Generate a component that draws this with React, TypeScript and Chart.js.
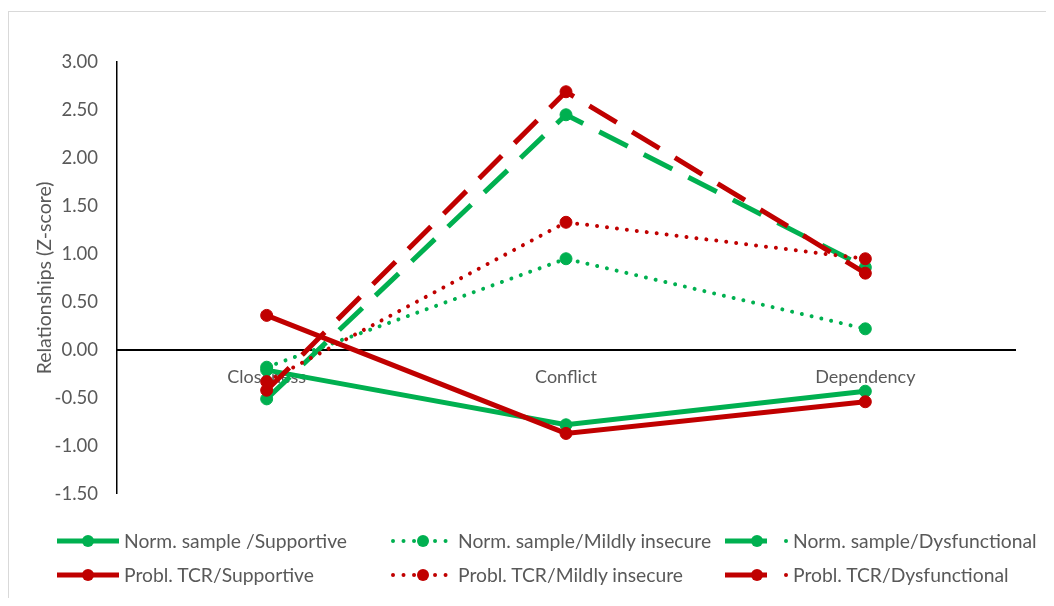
import React, { useEffect, useRef } from "react";
import { Chart, registerables } from "chart.js";

Chart.register(...registerables);

const categories = ["Closeness", "Conflict", "Dependency"];
const normSupportive = [-0.21, -0.78, -0.43];
const normMildly = [-0.18, 0.95, 0.22];
const normDysfunctional = [-0.51, 2.45, 0.86];
const problSupportive = [0.36, -0.87, -0.54];
const problMildly = [-0.33, 1.33, 0.95];
const problDysfunctional = [-0.42, 2.69, 0.8];

const seriesLabels = [
  "Norm. sample /Supportive",
  "Norm. sample/Mildly insecure",
  "Norm. sample/Dysfunctional",
  "Probl. TCR/Supportive",
  "Probl. TCR/Mildly insecure",
  "Probl. TCR/Dysfunctional",
];

const GREEN = "#00B050";
const RED = "#C00000";
const TEXT = "#595959";
const FONT = "Lato, 'Open Sans', sans-serif";

type Style = "solid" | "dotted" | "dashed";

function ds(label: string, data: number[], color: string, style: Style, order: number) {
  const dash = style === "dotted" ? [0.01, 10] : style === "dashed" ? [32, 18] : [];
  return {
    label,
    data,
    borderColor: color,
    backgroundColor: color,
    borderWidth: style === "dotted" ? 4 : 5,
    borderDash: dash,
    borderCapStyle: style === "dotted" ? "round" : "butt",
    pointRadius: 6,
    pointBorderWidth: 1,
    pointBackgroundColor: color,
    pointBorderColor: color,
    tension: 0,
    fill: false,
    order,
  } as any;
}

export default function App() {
  const ref = useRef<HTMLCanvasElement | null>(null);

  useEffect(() => {
    if (!ref.current) return;
    const chart = new Chart(ref.current, {
      type: "line",
      data: {
        labels: categories,
        datasets: [
          ds(seriesLabels[0], normSupportive, GREEN, "solid", 5),
          ds(seriesLabels[1], normMildly, GREEN, "dotted", 4),
          ds(seriesLabels[2], normDysfunctional, GREEN, "dashed", 3),
          ds(seriesLabels[3], problSupportive, RED, "solid", 2),
          ds(seriesLabels[4], problMildly, RED, "dotted", 1),
          ds(seriesLabels[5], problDysfunctional, RED, "dashed", 0),
        ],
      },
      options: {
        animation: false,
        responsive: false,
        maintainAspectRatio: false,
        layout: { padding: { top: 54, right: 31, bottom: 15, left: 0 } },
        plugins: { legend: { display: false }, tooltip: { enabled: false } },
        scales: {
          x: {
            type: "category",
            offset: true,
            position: { y: 0 } as any,
            grid: { display: false, drawTicks: false },
            border: { display: true, color: "#000000", width: 2 },
            ticks: { color: TEXT, padding: 16, font: { family: FONT, size: 18 } },
          },
          y: {
            type: "linear",
            min: -1.5,
            max: 3,
            position: "left",
            grid: { display: false, drawTicks: false },
            border: { display: true, color: "#000000", width: 1.5 },
            ticks: {
              stepSize: 0.5,
              color: TEXT,
              padding: 19,
              font: { family: FONT, size: 18.5 },
              callback: (v: any) => Number(v).toFixed(2),
            },
            title: {
              display: true,
              text: "Relationships (Z-score)",
              color: TEXT,
              font: { family: FONT, size: 19.5 },
              padding: { top: 25, bottom: 0 },
            },
            afterFit: (scale: any) => {
              scale.width = 109;
            },
          },
        },
      } as any,
    });
    return () => chart.destroy();
  }, []);

  const rows = [23, 57];
  const textStyle = (left: number, top: number): React.CSSProperties => ({
    position: "absolute",
    left,
    top: top - 11,
    lineHeight: "22px",
    fontFamily: FONT,
    fontSize: 19.3,
    color: TEXT,
    whiteSpace: "nowrap",
  });

  return (
    <div style={{ position: "relative", width: 1038, height: 590, overflow: "hidden" }}>
      <div
        style={{
          position: "absolute",
          left: 0,
          top: 3,
          width: 1200,
          height: 800,
          borderLeft: "1px solid #d9d9d9",
          borderTop: "1px solid #d9d9d9",
        }}
      />
      <canvas
        ref={ref}
        width={1038}
        height={516}
        style={{ position: "absolute", left: 0, top: 0, width: 1038, height: 516 }}
      />
      <div style={{ position: "absolute", left: 0, top: 510, width: 1038, height: 80 }}>
        <svg width={1038} height={80} style={{ position: "absolute", left: 0, top: 0 }}>
          {rows.map((y, r) => {
            const c = r === 0 ? GREEN : RED;
            return (
              <g key={r}>
                <line x1={49} y1={y} x2={111} y2={y} stroke={c} strokeWidth={5} />
                <circle cx={80} cy={y} r={6} fill={c} />
                <line x1={385} y1={y} x2={438} y2={y} stroke={c} strokeWidth={4} strokeLinecap="round" strokeDasharray="0.01 10.5" />
                <circle cx={415} cy={y} r={6} fill={c} />
                <line x1={717} y1={y} x2={759} y2={y} stroke={c} strokeWidth={5} />
                <circle cx={749} cy={y} r={6} fill={c} />
                <circle cx={778} cy={y} r={2} fill={c} />
              </g>
            );
          })}
        </svg>
        <span style={textStyle(116, rows[0])}>{seriesLabels[0]}</span>
        <span style={textStyle(450, rows[0])}>{seriesLabels[1]}</span>
        <span style={textStyle(785, rows[0])}>{seriesLabels[2]}</span>
        <span style={textStyle(116, rows[1])}>{seriesLabels[3]}</span>
        <span style={textStyle(450, rows[1])}>{seriesLabels[4]}</span>
        <span style={textStyle(785, rows[1])}>{seriesLabels[5]}</span>
      </div>
    </div>
  );
}
